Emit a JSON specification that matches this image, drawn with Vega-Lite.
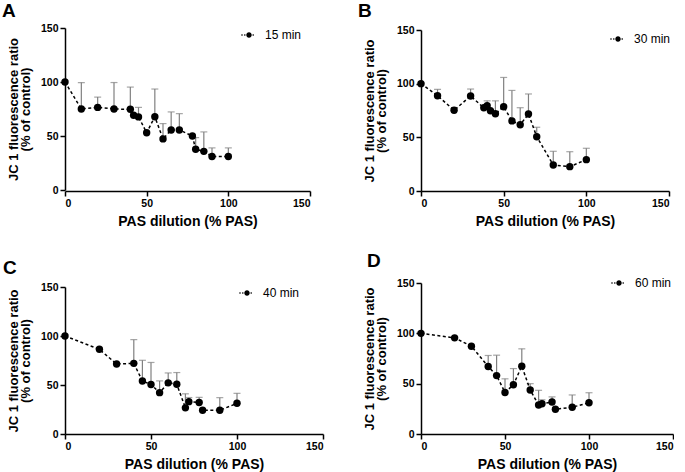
{
  "$schema": "https://vega.github.io/schema/vega-lite/v6.json",
  "padding": {"left": 2, "top": 2, "right": 0, "bottom": 0},
  "background": "white",
  "config": {
    "font": "Liberation Sans",
    "view": {"stroke": null},
    "axis": {"domainColor": "black", "domainWidth": 1.5, "tickColor": "black", "tickWidth": 1.5, "tickSize": 5, "labelFont": "Liberation Sans", "labelFontWeight": "bold", "labelFontSize": 10.5, "labelColor": "black", "titleFont": "Liberation Sans", "titleFontWeight": "bold", "titleFontSize": 13, "titleColor": "black", "grid": false, "labelPadding": 2},
    "axisX": {"titleFontSize": 14, "titlePadding": 6},
    "axisY": {"titlePadding": 8, "titleLineHeight": 12},
    "title": {"font": "Liberation Sans", "fontSize": 19, "fontWeight": "bold", "anchor": "start", "frame": "group", "color": "black", "offset": 4},
    "legend": {"title": null, "orient": "none", "symbolSize": 256, "symbolStrokeWidth": 0, "labelFont": "Liberation Sans", "labelFontSize": 12, "labelColor": "black", "labelOffset": 8, "padding": 0,
      "symbolType": "M-0.95,-0.08H-0.8V0.08H-0.95Z M-0.6,-0.08H-0.45V0.08H-0.6Z M0.45,-0.08H0.6V0.08H0.45Z M-0.34,0A0.34,0.34 0 1,0 0.34,0A0.34,0.34 0 1,0 -0.34,0Z"}
  },
  "resolve": {"scale": {"color": "independent"}, "legend": {"color": "independent"}},
  "datasets": {
    "d": [
      {"p": "A", "t": "15 min", "x": 0, "y": 100, "u": null},
      {"p": "A", "t": "15 min", "x": 10, "y": 75, "u": 99.5},
      {"p": "A", "t": "15 min", "x": 20, "y": 76.5, "u": 86},
      {"p": "A", "t": "15 min", "x": 30, "y": 75, "u": 99.5},
      {"p": "A", "t": "15 min", "x": 40, "y": 74.7, "u": 95.3},
      {"p": "A", "t": "15 min", "x": 42, "y": 69.2, "u": null},
      {"p": "A", "t": "15 min", "x": 45, "y": 67.7, "u": 76.5},
      {"p": "A", "t": "15 min", "x": 50, "y": 53, "u": null},
      {"p": "A", "t": "15 min", "x": 55, "y": 67.9, "u": 93.5},
      {"p": "A", "t": "15 min", "x": 60, "y": 47.3, "u": 61.5},
      {"p": "A", "t": "15 min", "x": 65, "y": 55.6, "u": 72.3},
      {"p": "A", "t": "15 min", "x": 70, "y": 55.6, "u": 70.7},
      {"p": "A", "t": "15 min", "x": 78, "y": 50, "u": null},
      {"p": "A", "t": "15 min", "x": 80, "y": 37.7, "u": 48.5},
      {"p": "A", "t": "15 min", "x": 85, "y": 35.8, "u": 53.8},
      {"p": "A", "t": "15 min", "x": 90, "y": 31, "u": 39},
      {"p": "A", "t": "15 min", "x": 100, "y": 31, "u": 39},

      {"p": "B", "t": "30 min", "x": 0, "y": 100, "u": null},
      {"p": "B", "t": "30 min", "x": 10, "y": 88.8, "u": 94.7},
      {"p": "B", "t": "30 min", "x": 20, "y": 75.2, "u": null},
      {"p": "B", "t": "30 min", "x": 30, "y": 88.5, "u": 95},
      {"p": "B", "t": "30 min", "x": 38, "y": 77.5, "u": null},
      {"p": "B", "t": "30 min", "x": 40, "y": 79.5, "u": 84},
      {"p": "B", "t": "30 min", "x": 42, "y": 74.8, "u": null},
      {"p": "B", "t": "30 min", "x": 45, "y": 72, "u": 84},
      {"p": "B", "t": "30 min", "x": 50, "y": 78.5, "u": 105.8},
      {"p": "B", "t": "30 min", "x": 55, "y": 65.3, "u": 93.7},
      {"p": "B", "t": "30 min", "x": 60, "y": 61.8, "u": 77.6},
      {"p": "B", "t": "30 min", "x": 65, "y": 71.7, "u": 90.4},
      {"p": "B", "t": "30 min", "x": 70, "y": 50.6, "u": 59.4},
      {"p": "B", "t": "30 min", "x": 80, "y": 24.2, "u": 37},
      {"p": "B", "t": "30 min", "x": 90, "y": 22.7, "u": 36.6},
      {"p": "B", "t": "30 min", "x": 100, "y": 29.2, "u": 39.8},

      {"p": "C", "t": "40 min", "x": 0, "y": 100, "u": null},
      {"p": "C", "t": "40 min", "x": 20, "y": 86.4, "u": null},
      {"p": "C", "t": "40 min", "x": 30, "y": 71.4, "u": null},
      {"p": "C", "t": "40 min", "x": 40, "y": 72.1, "u": 96.3},
      {"p": "C", "t": "40 min", "x": 45, "y": 54.1, "u": 75.2},
      {"p": "C", "t": "40 min", "x": 50, "y": 50.5, "u": 73},
      {"p": "C", "t": "40 min", "x": 55, "y": 42.2, "u": 54.2},
      {"p": "C", "t": "40 min", "x": 60, "y": 52.2, "u": 62.3},
      {"p": "C", "t": "40 min", "x": 65, "y": 50.7, "u": 62.7},
      {"p": "C", "t": "40 min", "x": 70, "y": 26.7, "u": 41},
      {"p": "C", "t": "40 min", "x": 72, "y": 33, "u": 37.2},
      {"p": "C", "t": "40 min", "x": 78, "y": 32.2, "u": 37.4},
      {"p": "C", "t": "40 min", "x": 80, "y": 24.2, "u": null},
      {"p": "C", "t": "40 min", "x": 90, "y": 24.2, "u": 37.1},
      {"p": "C", "t": "40 min", "x": 100, "y": 31.3, "u": 41.5},

      {"p": "D", "t": "60 min", "x": 0, "y": 100, "u": null},
      {"p": "D", "t": "60 min", "x": 20, "y": 95.5, "u": null},
      {"p": "D", "t": "60 min", "x": 30, "y": 87.2, "u": null},
      {"p": "D", "t": "60 min", "x": 40, "y": 67, "u": 78},
      {"p": "D", "t": "60 min", "x": 45, "y": 58, "u": 78.3},
      {"p": "D", "t": "60 min", "x": 50, "y": 41.3, "u": 54.8},
      {"p": "D", "t": "60 min", "x": 55, "y": 48.9, "u": 65},
      {"p": "D", "t": "60 min", "x": 60, "y": 67.4, "u": 84.6},
      {"p": "D", "t": "60 min", "x": 65, "y": 43.7, "u": 50},
      {"p": "D", "t": "60 min", "x": 70, "y": 28.8, "u": 43.4},
      {"p": "D", "t": "60 min", "x": 72, "y": 30, "u": 34},
      {"p": "D", "t": "60 min", "x": 78, "y": 31.8, "u": 36.8},
      {"p": "D", "t": "60 min", "x": 80, "y": 24.6, "u": null},
      {"p": "D", "t": "60 min", "x": 90, "y": 26.6, "u": 38.8},
      {"p": "D", "t": "60 min", "x": 100, "y": 31, "u": 41}
    ]
  },
  "spacing": 23,
  "vconcat": [
    {
      "spacing": 47,
      "resolve": {"scale": {"color": "independent"}, "legend": {"color": "independent"}},
      "hconcat": [
        {
          "width": 245, "height": 163,
          "title": {"text": "A", "dx": -63, "offset": 2},
          "data": {"name": "d"},
          "transform": [{"filter": "datum.p == 'A'"}],
          "encoding": {
            "x": {"field": "x", "type": "quantitative", "scale": {"domain": [0, 150], "nice": false}, "axis": {"values": [0, 50, 100, 150], "title": "PAS dilution (% PAS)"}},
            "y": {"field": "y", "type": "quantitative", "scale": {"domain": [0, 150], "nice": false, "range": [162, 0]}, "axis": {"values": [0, 50, 100, 150], "title": ["JC 1 fluorescence ratio", "(% of control)"]}}
          },
          "layer": [
            {"transform": [{"filter": "datum.u != null"}], "mark": {"type": "rule", "color": "#808080", "strokeWidth": 1.2}, "encoding": {"y2": {"field": "u"}}},
            {"transform": [{"filter": "datum.u != null"}], "mark": {"type": "tick", "orient": "horizontal", "color": "#808080", "size": 7, "thickness": 1.2}, "encoding": {"y": {"field": "u", "type": "quantitative", "title": ["JC 1 fluorescence ratio", "(% of control)"]}}},
            {"mark": {"type": "line", "color": "black", "strokeDash": [3, 2.5], "strokeWidth": 1.5}, "encoding": {}},
            {"mark": {"type": "point", "filled": true, "size": 55, "opacity": 1}, "encoding": {"color": {"field": "t", "type": "nominal", "scale": {"range": ["black"]}, "legend": {"legendX": 176, "legendY": -1}}}}
          ]
        },
        {
          "width": 248, "height": 163,
          "title": {"text": "B", "dx": -63},
          "data": {"name": "d"},
          "transform": [{"filter": "datum.p == 'B'"}],
          "encoding": {
            "x": {"field": "x", "type": "quantitative", "scale": {"domain": [0, 150], "nice": false}, "axis": {"values": [0, 50, 100, 150], "title": "PAS dilution (% PAS)"}},
            "y": {"field": "y", "type": "quantitative", "scale": {"domain": [0, 150], "nice": false, "range": [163, 2]}, "axis": {"values": [0, 50, 100, 150], "title": ["JC 1 fluorescence ratio", "(% of control)"]}}
          },
          "layer": [
            {"transform": [{"filter": "datum.u != null"}], "mark": {"type": "rule", "color": "#808080", "strokeWidth": 1.2}, "encoding": {"y2": {"field": "u"}}},
            {"transform": [{"filter": "datum.u != null"}], "mark": {"type": "tick", "orient": "horizontal", "color": "#808080", "size": 7, "thickness": 1.2}, "encoding": {"y": {"field": "u", "type": "quantitative", "title": ["JC 1 fluorescence ratio", "(% of control)"]}}},
            {"mark": {"type": "line", "color": "black", "strokeDash": [3, 2.5], "strokeWidth": 1.5}, "encoding": {}},
            {"mark": {"type": "point", "filled": true, "size": 55, "opacity": 1}, "encoding": {"color": {"field": "t", "type": "nominal", "scale": {"range": ["black"]}, "legend": {"legendX": 189, "legendY": 3}}}}
          ]
        }
      ]
    },
    {
      "spacing": 39,
      "resolve": {"scale": {"color": "independent"}, "legend": {"color": "independent"}},
      "hconcat": [
        {
          "width": 258, "height": 151,
          "title": {"text": "C", "dx": -62},
          "data": {"name": "d"},
          "transform": [{"filter": "datum.p == 'C'"}],
          "encoding": {
            "x": {"field": "x", "type": "quantitative", "scale": {"domain": [0, 150], "nice": false}, "axis": {"values": [0, 50, 100, 150], "title": "PAS dilution (% PAS)"}},
            "y": {"field": "y", "type": "quantitative", "scale": {"domain": [0, 150], "nice": false, "range": [151, 4]}, "axis": {"values": [0, 50, 100, 150], "title": ["JC 1 fluorescence ratio", "(% of control)"]}}
          },
          "layer": [
            {"transform": [{"filter": "datum.u != null"}], "mark": {"type": "rule", "color": "#808080", "strokeWidth": 1.2}, "encoding": {"y2": {"field": "u"}}},
            {"transform": [{"filter": "datum.u != null"}], "mark": {"type": "tick", "orient": "horizontal", "color": "#808080", "size": 7, "thickness": 1.2}, "encoding": {"y": {"field": "u", "type": "quantitative", "title": ["JC 1 fluorescence ratio", "(% of control)"]}}},
            {"mark": {"type": "line", "color": "black", "strokeDash": [3, 2.5], "strokeWidth": 1.5}, "encoding": {}},
            {"mark": {"type": "point", "filled": true, "size": 55, "opacity": 1}, "encoding": {"color": {"field": "t", "type": "nominal", "scale": {"range": ["black"]}, "legend": {"legendX": 174, "legendY": 2}}}}
          ]
        },
        {
          "width": 252, "height": 151,
          "title": {"text": "D", "dx": -54},
          "data": {"name": "d"},
          "transform": [{"filter": "datum.p == 'D'"}],
          "encoding": {
            "x": {"field": "x", "type": "quantitative", "scale": {"domain": [0, 150], "nice": false}, "axis": {"values": [0, 50, 100, 150], "title": "PAS dilution (% PAS)"}},
            "y": {"field": "y", "type": "quantitative", "scale": {"domain": [0, 150], "nice": false}, "axis": {"values": [0, 50, 100, 150], "title": ["JC 1 fluorescence ratio", "(% of control)"]}}
          },
          "layer": [
            {"transform": [{"filter": "datum.u != null"}], "mark": {"type": "rule", "color": "#808080", "strokeWidth": 1.2}, "encoding": {"y2": {"field": "u"}}},
            {"transform": [{"filter": "datum.u != null"}], "mark": {"type": "tick", "orient": "horizontal", "color": "#808080", "size": 7, "thickness": 1.2}, "encoding": {"y": {"field": "u", "type": "quantitative", "title": ["JC 1 fluorescence ratio", "(% of control)"]}}},
            {"mark": {"type": "line", "color": "black", "strokeDash": [3, 2.5], "strokeWidth": 1.5}, "encoding": {}},
            {"mark": {"type": "point", "filled": true, "size": 55, "opacity": 1}, "encoding": {"color": {"field": "t", "type": "nominal", "scale": {"range": ["black"]}, "legend": {"legendX": 190, "legendY": -8}}}}
          ]
        }
      ]
    }
  ]
}
